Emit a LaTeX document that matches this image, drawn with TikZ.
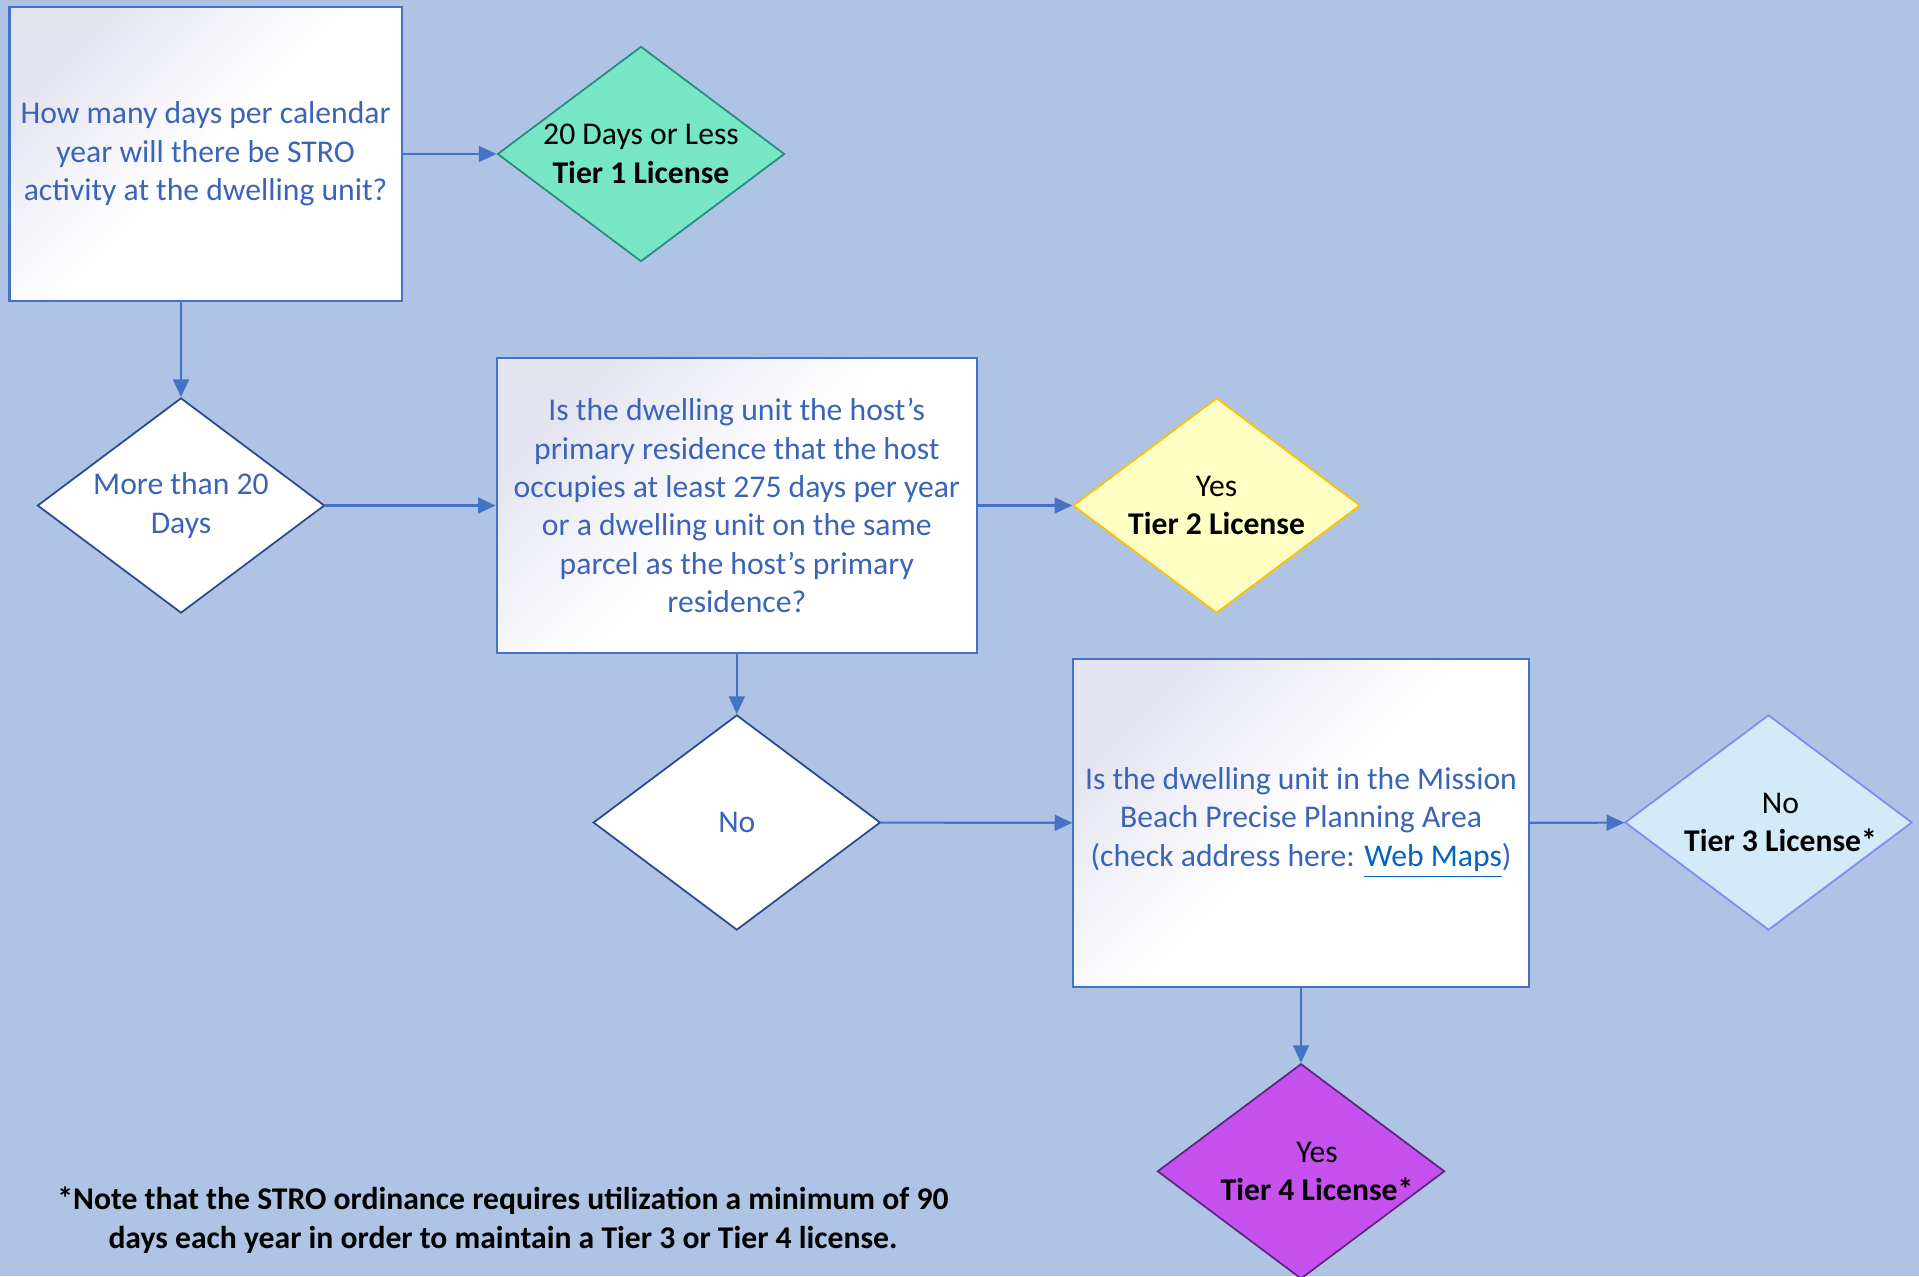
\documentclass[tikz,border=0pt]{standalone}
\usepackage{fontspec}
\setmainfont{Carlito}
\usetikzlibrary{arrows.meta,positioning,shapes.geometric}
\definecolor{bgblue}{HTML}{AFC3E4}
\definecolor{qblue}{HTML}{4472C4}
\definecolor{txtblue}{HTML}{3B64B9}
\definecolor{lav}{HTML}{E4E4F1}
\definecolor{navy}{HTML}{2B4A8C}
\definecolor{linkblue}{HTML}{0563C1}
\definecolor{tonefill}{HTML}{77E6C5}
\definecolor{toneline}{HTML}{2A8C80}
\definecolor{ttwofill}{HTML}{FFFFC4}
\definecolor{ttwoline}{HTML}{FFC000}
\definecolor{tthreefill}{HTML}{D3EBF9}
\definecolor{tthreeline}{HTML}{7D8CF2}
\definecolor{tfourfill}{HTML}{C651EE}
\definecolor{tfourline}{HTML}{5B2A7F}
\newcommand{\nudge}[2]{\hspace*{#1}#2\hspace*{-#1}}

\begin{document}
\begin{tikzpicture}[
    x=0.01cm, y=-0.01cm,
    every node/.style={font=\fontsize{9}{10.9}\selectfont},
    question/.style={draw=qblue, line width=0.6pt, top color=lav, bottom color=white, middle color=white, shading angle=45, align=center, text=txtblue, inner sep=0pt},
    dec/.style={diamond, aspect=1.33, minimum width=2.87cm, minimum height=2.15cm, inner sep=0pt, align=center, line width=0.5pt},
    plain/.style={dec, fill=white, draw=navy, text=txtblue},
    flow/.style={draw=qblue, line width=0.6pt, -{Triangle[length=5pt,width=4.5pt]}}
  ]
  \fill[bgblue] (0,0) rectangle (1919,1276);
  \useasboundingbox (0,0) rectangle (1919,1276);
  % first question
  \node[question, minimum width=3.92cm, minimum height=2.94cm] (days) at (205.6,154) {How many days per calendar\\ year will there be STRO\\ activity at the dwelling unit?};
  \node[dec, fill=tonefill, draw=toneline] (tone) at (641,154) {20 Days or Less\\ \textbf{Tier 1 License}};
  \draw[flow] (days) -- (tone);
  \node[plain] (more) at (181,505.5) {More than 20\\ Days};
  \draw[flow] (days.south -| more.north) -- (more.north);
  % primary residence
  \node[question, minimum width=4.8cm, minimum height=2.94cm] (prim) at (736.8,505.5) {Is the dwelling unit the host's\\ primary residence that the host\\ occupies at least 275 days per year\\ or a dwelling unit on the same\\ parcel as the host's primary\\ residence?};
  \draw[flow] (more) -- (prim);
  \node[dec, fill=ttwofill, draw=ttwoline] (ttwo) at (1216.6,505.5) {Yes\\ \textbf{Tier 2 License}};
  \draw[flow] (prim) -- (ttwo);
  \node[plain] (no) at (736.8,822.5) {No};
  \draw[flow] (prim) -- (no);
  % mission beach
  \node[question, minimum width=4.55cm, minimum height=3.27cm] (beach) at (1301,823) {Is the dwelling unit in the Mission\\ Beach Precise Planning Area\\ (check address here: \textcolor{linkblue}{\underline{Web Maps}})};
  \draw[flow] (no) -- (beach);
  \node[dec, fill=tthreefill, draw=tthreeline] (tthree) at (1768.5,822.5) {\nudge{0.12cm}{No}\\ \nudge{0.12cm}{\textbf{Tier 3 License*}}};
  \draw[flow] (beach) -- (tthree);
  \node[dec, fill=tfourfill, draw=tfourline] (tfour) at (1301,1171.3) {\nudge{0.16cm}{Yes}\\ \nudge{0.16cm}{\textbf{Tier 4 License*}}};
  \draw[flow] (beach) -- (tfour);
  \node[align=center, font=\fontsize{9}{10.9}\selectfont\bfseries] (note) at (503,1220) {*Note that the STRO ordinance requires utilization a minimum of 90\\ days each year in order to maintain a Tier 3 or Tier 4 license.};
\end{tikzpicture}
\end{document}
